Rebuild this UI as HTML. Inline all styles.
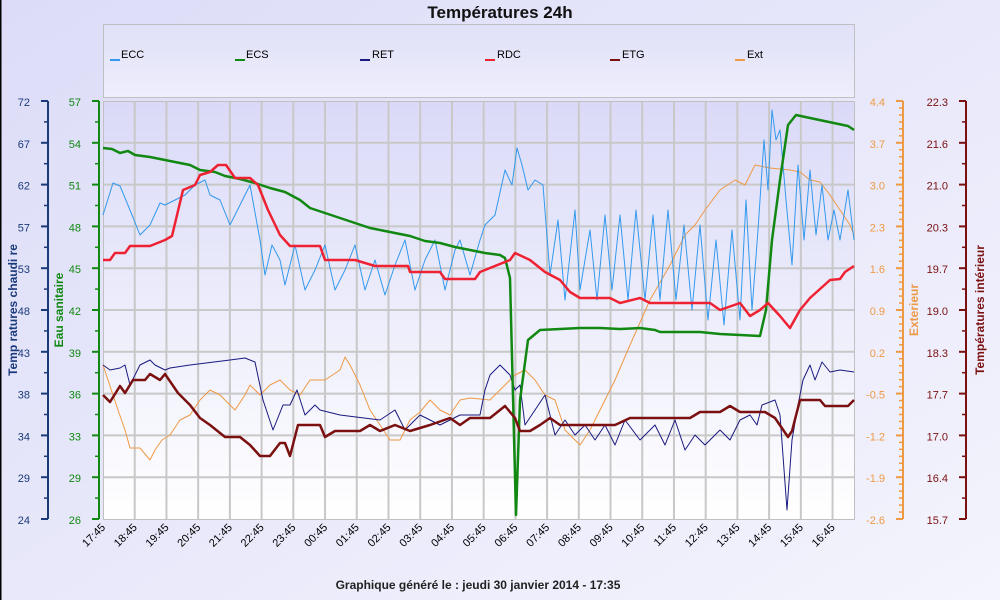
<!DOCTYPE html>
<html><head><meta charset="utf-8">
<style>
html,body{margin:0;padding:0;width:1000px;height:600px;overflow:hidden;font-family:"Liberation Sans",sans-serif}
</style></head><body>
<svg id="s" width="1000" height="600" xmlns="http://www.w3.org/2000/svg" font-family="Liberation Sans, sans-serif">
<defs>
<linearGradient id="bg" x1="0" y1="0" x2="1" y2="1"><stop offset="0" stop-color="#dcdcf8"/><stop offset="1" stop-color="#f4f4fd"/></linearGradient>
<linearGradient id="pl" x1="0" y1="0" x2="0" y2="1"><stop offset="0" stop-color="#dadaf8"/><stop offset="1" stop-color="#ffffff"/></linearGradient>
<linearGradient id="lg" x1="0" y1="0" x2="0" y2="1"><stop offset="0" stop-color="#e0e0f8"/><stop offset="1" stop-color="#eeeefc"/></linearGradient>
</defs>
<rect width="1000" height="600" fill="url(#bg)"/>
<rect x="0" y="0" width="1.5" height="600" fill="#000"/>
<text x="500" y="18" text-anchor="middle" font-size="17" font-weight="bold" fill="#111">Températures 24h</text>
<rect x="103.5" y="24.5" width="751" height="73" fill="url(#lg)" stroke="#c0c0c0"/>
<rect x="103.5" y="101.5" width="751" height="418" fill="url(#pl)" stroke="#c0c0c0"/>
<g id="grid"></g>
<g id="axes"></g>
<g id="series" fill="none" stroke-linejoin="round"></g>
<g font-size="11" fill="#000">
<rect x="110" y="59" width="10" height="2" fill="#3399ee"/><text x="121" y="58">ECC</text>
<rect x="235" y="59" width="10" height="2" fill="#118811"/><text x="246" y="58">ECS</text>
<rect x="360" y="59" width="10" height="2" fill="#1a1a80"/><text x="372" y="58">RET</text>
<rect x="485" y="59" width="10" height="2" fill="#ee2233"/><text x="497" y="58">RDC</text>
<rect x="610" y="59" width="10" height="2" fill="#7a1010"/><text x="622" y="58">ETG</text>
<rect x="735" y="59" width="10" height="2" fill="#ee9944"/><text x="747" y="58">Ext</text>
</g>
<text transform="translate(17,310) rotate(-90)" text-anchor="middle" font-size="12" font-weight="bold" fill="#1a3a7a">Temp ratures chaudi re</text>
<text transform="translate(63,310) rotate(-90)" text-anchor="middle" font-size="12" font-weight="bold" fill="#118811">Eau sanitaire</text>
<text transform="translate(918,310) rotate(-90)" text-anchor="middle" font-size="12" font-weight="bold" fill="#ee9944">Exterieur</text>
<text transform="translate(984,310) rotate(-90)" text-anchor="middle" font-size="12" font-weight="bold" fill="#7a1010">Températures intérieur</text>
<text x="478" y="589" text-anchor="middle" font-size="12" font-weight="bold" fill="#222">Graphique généré le : jeudi 30 janvier 2014  - 17:35</text>
</svg>
<script>
(function(){
var NS="http://www.w3.org/2000/svg";
function el(p,t,a,txt){var e=document.createElementNS(NS,t);for(var k in a)e.setAttribute(k,a[k]);if(txt!=null)e.textContent=txt;document.getElementById(p).appendChild(e);return e;}
var T=101,B=519,step=41.8;
for(var i=1;i<10;i++){var y=T+i*step;el("grid","line",{x1:104,x2:854,y1:y,y2:y,stroke:"#c8c8c8","stroke-width":2});}
for(var i=0;i<24;i++){var x=103+31.72*i;if(i>0)el("grid","line",{x1:x,x2:x,y1:102,y2:519,stroke:"#c8c8c8","stroke-width":2});
var h=(17+i)%24;var s=(h<10?"0":"")+h+":45";
el("axes","text",{transform:"translate("+(x+3)+",528) rotate(-45)","text-anchor":"end","font-size":"11",fill:"#000"},s);}
function axis(x,side,col,vals,minor){
 el("axes","line",{x1:x,x2:x,y1:T,y2:B,stroke:col,"stroke-width":2});
 for(var i=0;i<=10;i++){var y=T+i*step;
  el("axes","line",{x1:x,x2:x+side*7,y1:y,y2:y,stroke:col,"stroke-width":2});
  el("axes","text",{x:x-18,y:y+5,"text-anchor":"end","font-size":"11",fill:col},vals[i]);
  if(i<10){for(var m=1;m<minor;m++){var yy=y+m*step/minor;el("axes","line",{x1:x,x2:x+side*4,y1:yy,y2:yy,stroke:col,"stroke-width":1.5});}}
 }}
axis(48,-1,"#1a3a7a",["72","67","62","57","53","48","43","38","34","29","24"],2);
axis(99,-1,"#118811",["57","54","51","48","45","42","39","36","33","29","26"],2);
axis(903,-1,"#ee9944",["4.4","3.7","3.0","2.3","1.6","0.9","0.2","-0.5","-1.2","-1.9","-2.6"],6);
axis(966,-1,"#7a1010",["22.3","21.6","21.0","20.3","19.7","19.0","18.3","17.7","17.0","16.4","15.7"],2);
function ser(col,w,pts){el("series","polyline",{points:pts,stroke:col,"stroke-width":w});}
ser("#ee9944",1,"103,365 108,380 118,410 125,430 130,448 140,448 150,460 155,450 162,440 170,435 180,420 190,415 200,400 210,390 220,395 235,410 245,395 250,385 260,395 270,385 280,380 290,390 300,395 310,380 325,380 340,370 345,357 350,365 360,385 370,410 380,425 390,440 400,440 410,420 420,412 430,400 440,410 450,415 460,400 470,398 490,400 500,390 515,375 525,370 535,380 545,395 555,400 565,430 580,445 590,430 600,410 615,380 630,345 650,300 670,265 685,235 695,225 705,210 720,190 735,180 745,185 755,165 770,168 790,170 800,172 810,180 820,182 830,195 840,210 850,225 854,235");
ser("#3399ee",1,"103,215 113,183 120,186 130,210 140,235 150,225 160,203 165,205 175,200 185,195 195,185 205,180 210,195 220,200 230,225 240,205 250,185 260,240 265,275 272,245 280,260 285,285 295,245 305,290 315,270 325,245 335,290 345,270 355,245 365,290 375,260 385,295 395,265 405,240 415,290 425,260 435,240 445,290 455,250 460,240 470,275 480,240 485,225 495,215 505,170 512,185 517,148 522,165 528,190 535,180 543,185 550,275 558,220 565,300 575,210 580,290 590,230 597,300 605,215 612,290 620,215 628,300 636,210 645,300 653,215 660,300 668,210 676,300 684,225 692,310 700,225 708,320 716,240 724,325 732,230 740,320 746,200 752,310 758,230 764,140 768,190 772,110 776,140 780,130 786,200 792,265 798,165 804,240 810,170 816,235 822,185 828,240 834,210 840,240 848,190 854,240");
ser("#1a1a80",1,"103,365 110,370 120,368 125,365 130,385 140,365 150,360 155,365 165,370 170,368 190,365 230,360 245,358 255,362 263,400 273,430 283,405 290,405 297,390 305,415 315,405 320,410 340,415 380,420 395,410 405,430 420,415 440,425 460,415 480,415 485,390 490,375 500,365 510,375 515,390 520,385 525,425 535,410 545,395 555,435 565,420 575,435 585,425 595,440 605,425 615,445 625,420 640,440 655,425 665,445 675,420 685,450 695,435 705,445 720,430 730,440 740,420 750,415 757,425 762,405 775,400 780,415 787,510 792,440 798,405 803,380 810,365 815,380 822,362 830,372 840,370 854,372");
ser("#118811",2.5,"103,148 112,149 120,153 128,151 135,155 150,157 165,160 180,163 190,165 200,170 215,172 225,176 240,179 255,183 270,188 285,192 300,200 310,208 325,213 340,218 355,223 370,228 390,232 410,236 425,241 440,243 455,247 470,250 485,253 500,255 505,258 510,278 516,515 520,400 528,340 540,330 560,329 580,328 600,328 620,329 640,328 655,330 660,332 700,332 720,334 760,336 766,310 772,240 780,180 788,125 796,115 810,118 848,126 854,130");
ser("#ee2233",2.5,"103,260 110,260 115,253 125,253 130,246 150,246 165,240 172,236 183,190 195,185 200,175 210,172 218,165 226,165 235,178 250,178 258,185 268,210 280,235 290,246 320,246 325,260 355,260 375,266 408,266 410,272 440,272 445,279 475,279 480,272 510,260 515,253 530,260 545,272 560,280 570,292 580,298 610,298 620,303 640,298 650,303 710,303 720,310 740,303 750,316 760,310 768,303 780,316 790,328 800,310 810,298 830,280 840,279 845,272 854,266");
ser("#7a1010",2.5,"103,395 110,402 120,386 125,393 133,380 145,380 150,374 160,380 165,374 178,393 190,405 200,418 210,425 225,437 240,437 250,445 260,456 270,456 280,443 285,443 290,456 298,425 320,425 325,437 335,431 360,431 370,425 380,431 395,425 410,431 430,425 450,418 460,425 470,418 490,418 505,406 515,418 520,431 530,431 540,425 550,418 560,425 615,425 630,418 690,418 700,412 720,412 730,406 740,412 765,412 775,418 788,437 792,431 800,400 820,400 825,406 848,406 854,400");
})();
</script>
</body></html>
